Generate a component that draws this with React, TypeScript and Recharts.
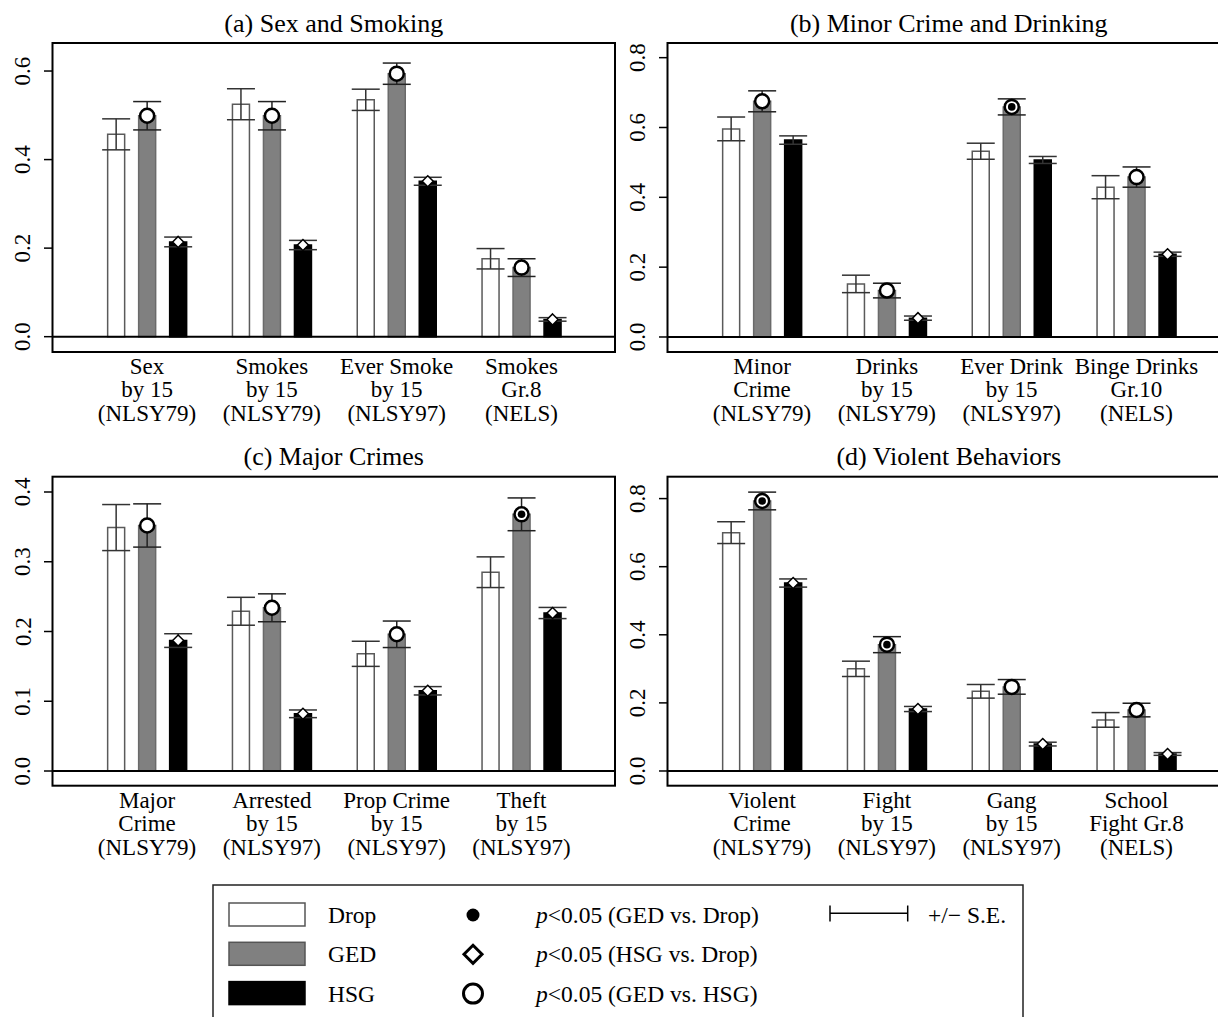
import React from 'react';
import { BarChart, Bar, XAxis, YAxis, ErrorBar, LabelList, ReferenceLine } from 'recharts';

const FONT = '"Liberation Serif", "Times New Roman", Times, serif';

// (a) Sex and Smoking
const catsA = ['Sex\nby 15\n(NLSY79)', 'Smokes\nby 15\n(NLSY79)', 'Ever Smoke\nby 15\n(NLSY97)', 'Smokes\nGr.8\n(NELS)'];
const dropA = [0.457, 0.525, 0.535, 0.176];
const dropSeA = [0.035, 0.035, 0.024, 0.023];
const gedA = [0.499, 0.499, 0.594, 0.156];
const gedSeA = [0.032, 0.032, 0.024, 0.02];
const hsgA = [0.214, 0.207, 0.351, 0.039];
const hsgSeA = [0.011, 0.0105, 0.009, 0.004];
// p<0.05 flags: GED vs Drop (dot), HSG vs Drop (diamond), GED vs HSG (circle)
const gedDropA = [0, 0, 0, 0];
const hsgDropA = [1, 1, 1, 1];
const gedHsgA = [1, 1, 1, 1];

// (b) Minor Crime and Drinking
const catsB = ['Minor\nCrime\n(NLSY79)', 'Drinks\nby 15\n(NLSY79)', 'Ever Drink\nby 15\n(NLSY97)', 'Binge Drinks\nGr.10\n(NELS)'];
const dropB = [0.596, 0.152, 0.532, 0.429];
const dropSeB = [0.034, 0.025, 0.023, 0.033];
const gedB = [0.675, 0.133, 0.659, 0.458];
const gedSeB = [0.03, 0.021, 0.023, 0.029];
const hsgB = [0.564, 0.054, 0.507, 0.237];
const hsgSeB = [0.012, 0.006, 0.01, 0.006];
const gedDropB = [0, 0, 1, 0];
const hsgDropB = [0, 1, 0, 1];
const gedHsgB = [1, 1, 1, 1];

// (c) Major Crimes
const catsC = ['Major\nCrime\n(NLSY79)', 'Arrested\nby 15\n(NLSY97)', 'Prop Crime\nby 15\n(NLSY97)', 'Theft\nby 15\n(NLSY97)'];
const dropC = [0.349, 0.229, 0.168, 0.285];
const dropSeC = [0.033, 0.02, 0.018, 0.022];
const gedC = [0.352, 0.234, 0.196, 0.368];
const gedSeC = [0.031, 0.02, 0.019, 0.0235];
const hsgC = [0.187, 0.082, 0.115, 0.2265];
const hsgSeC = [0.0098, 0.0055, 0.006, 0.008];
const gedDropC = [0, 0, 0, 1];
const hsgDropC = [1, 1, 1, 1];
const gedHsgC = [1, 1, 1, 1];

// (d) Violent Behaviors
const catsD = ['Violent\nCrime\n(NLSY79)', 'Fight\nby 15\n(NLSY97)', 'Gang\nby 15\n(NLSY97)', 'School\nFight Gr.8\n(NELS)'];
const dropD = [0.7, 0.3, 0.234, 0.15];
const dropSeD = [0.032, 0.0225, 0.02, 0.0215];
const gedD = [0.793, 0.371, 0.247, 0.179];
const gedSeD = [0.026, 0.0235, 0.0215, 0.02];
const hsgD = [0.552, 0.182, 0.079, 0.05];
const hsgSeD = [0.012, 0.0075, 0.0055, 0.004];
const gedDropD = [1, 1, 0, 0];
const hsgDropD = [1, 1, 1, 1];
const gedHsgD = [1, 1, 1, 1];

const legendGroups = ['Drop', 'GED', 'HSG'];
const legendTests = ['(GED vs. Drop)', '(HSG vs. Drop)', '(GED vs. HSG)'];

const COLORS = { drop: '#ffffff', ged: '#808080', hsg: '#000000' };

const makeRows = (
  cats: string[], drop: number[], dropSe: number[], ged: number[], gedSe: number[],
  hsg: number[], hsgSe: number[], gedDrop: number[], hsgDrop: number[], gedHsg: number[]
) =>
  cats.map((cat, i) => ({
    cat,
    drop: drop[i], dropSe: dropSe[i],
    ged: ged[i], gedSe: gedSe[i],
    hsg: hsg[i], hsgSe: hsgSe[i],
    // 0 = nothing, 1 = open circle, 2 = circle with dot
    gedMark: gedHsg[i] ? (gedDrop[i] ? 2 : 1) : 0,
    hsgMark: hsgDrop[i],
  }));

// layout of the plot boxes
const PLOT_W = 562.5;
const PLOT_H = 309;
const Y_W = 60;
const TOP_M = 43;
const RIGHT_M = 10;
const X_H = 82;
const PAD = 31.65;

const panels = [
  { id: 'a', title: '(a) Sex and Smoking', left: 52.5, top: 43, domain: [-0.0346, 0.6633], ticks: [0, 0.2, 0.4, 0.6],
    rows: makeRows(catsA, dropA, dropSeA, gedA, gedSeA, hsgA, hsgSeA, gedDropA, hsgDropA, gedHsgA) },
  { id: 'b', title: '(b) Minor Crime and Drinking', left: 667.5, top: 43, domain: [-0.043, 0.842], ticks: [0, 0.2, 0.4, 0.6, 0.8],
    rows: makeRows(catsB, dropB, dropSeB, gedB, gedSeB, hsgB, hsgSeB, gedDropB, hsgDropB, gedHsgB) },
  { id: 'c', title: '(c) Major Crimes', left: 52.5, top: 476.7, domain: [-0.0215, 0.4215], ticks: [0, 0.1, 0.2, 0.3, 0.4],
    rows: makeRows(catsC, dropC, dropSeC, gedC, gedSeC, hsgC, hsgSeC, gedDropC, hsgDropC, gedHsgC) },
  { id: 'd', title: '(d) Violent Behaviors', left: 667.5, top: 476.7, domain: [-0.0441, 0.8634], ticks: [0, 0.2, 0.4, 0.6, 0.8],
    rows: makeRows(catsD, dropD, dropSeD, gedD, gedSeD, hsgD, hsgSeD, gedDropD, hsgDropD, gedHsgD) },
];

const XTick = (props: any) => {
  const { x, y, payload } = props;
  const lines = String(payload.value).split('\n');
  return (
    <text x={x} y={y} textAnchor="middle" fontSize={23} fontFamily={FONT} fill="#000">
      {lines.map((l, i) => (
        <tspan key={i} x={x} y={y + 21.5 + i * 23.5}>{l}</tspan>
      ))}
    </text>
  );
};

const YTick = (props: any) => {
  const { x, y, payload } = props;
  const tx = x - 13.5;
  return (
    <text x={tx} y={y} transform={`rotate(-90 ${tx} ${y})`} textAnchor="middle" fontSize={23} fontFamily={FONT} fill="#000">
      {Number(payload.value).toFixed(1)}
    </text>
  );
};

const pos = (props: any) => {
  const vb = props.viewBox || {};
  const x = props.x ?? vb.x;
  const y = props.y ?? vb.y;
  const w = props.width ?? vb.width;
  return { cx: x + w / 2, cy: y };
};

const GedMarker = (props: any) => {
  if (!props.value) return null;
  const { cx, cy } = pos(props);
  return (
    <g>
      <circle cx={cx} cy={cy} r={7} fill="#fff" stroke="#000" strokeWidth={2.5} />
      {props.value === 2 && <circle cx={cx} cy={cy} r={3.8} fill="#000" />}
    </g>
  );
};

const HsgMarker = (props: any) => {
  if (!props.value) return null;
  const { cx, cy } = pos(props);
  const h = 5.5;
  return (
    <path d={`M${cx},${cy - h}L${cx + h},${cy}L${cx},${cy + h}L${cx - h},${cy}Z`} fill="#fff" stroke="#000" strokeWidth={1.5} />
  );
};

const Panel = ({ p }: { p: any }) => (
  <div style={{ position: 'absolute', left: p.left - Y_W, top: p.top - TOP_M }}>
    <BarChart
      width={Y_W + PLOT_W + RIGHT_M}
      height={TOP_M + PLOT_H + X_H}
      data={p.rows}
      margin={{ top: TOP_M, right: RIGHT_M, bottom: 0, left: 0 }}
      barGap={14}
    >
      <XAxis
        dataKey="cat"
        type="category"
        interval={0}
        height={X_H}
        axisLine={false}
        tickLine={false}
        tickSize={0}
        tickMargin={0}
        padding={{ left: PAD, right: PAD }}
        tick={<XTick />}
      />
      <YAxis
        type="number"
        width={Y_W}
        domain={p.domain}
        ticks={p.ticks}
        allowDataOverflow
        axisLine={false}
        tickLine={{ stroke: '#000', strokeWidth: 1.5 }}
        tickSize={9}
        tickMargin={0}
        tick={<YTick />}
      />
      <ReferenceLine y={0} stroke="#000" strokeWidth={2} />
      <Bar dataKey="drop" barSize={17} fill={COLORS.drop} stroke="#5a5a5a" strokeWidth={1.5} isAnimationActive={false}>
        <ErrorBar dataKey="dropSe" width={14} stroke="#333" strokeWidth={1.5} />
      </Bar>
      <Bar dataKey="ged" barSize={17} fill={COLORS.ged} stroke="#6a6a6a" strokeWidth={1.5} isAnimationActive={false}>
        <ErrorBar dataKey="gedSe" width={14} stroke="#222" strokeWidth={1.5} />
        <LabelList dataKey="gedMark" content={<GedMarker />} />
      </Bar>
      <Bar dataKey="hsg" barSize={17} fill={COLORS.hsg} stroke="#000" strokeWidth={1.5} isAnimationActive={false}>
        <ErrorBar dataKey="hsgSe" width={14} stroke="#333" strokeWidth={1.5} />
        <LabelList dataKey="hsgMark" content={<HsgMarker />} />
      </Bar>
    </BarChart>
  </div>
);

const Legend = () => {
  const base = (i: number) => 923 + i * 39.3;
  const fills = [COLORS.drop, COLORS.ged, COLORS.hsg];
  const strokes = ['#555', '#555', '#000'];
  return (
    <g fontFamily={FONT} fontSize={23.5} fill="#000">
      <rect x={213} y={885} width={810} height={160} fill="#fff" stroke="#222" strokeWidth={1.5} />
      {legendGroups.map((g, i) => (
        <g key={g}>
          <rect x={229} y={base(i) - 20} width={76} height={23} fill={fills[i]} stroke={strokes[i]} strokeWidth={1.5} />
          <text x={328} y={base(i)}>{g}</text>
        </g>
      ))}
      <circle cx={473} cy={base(0) - 8} r={6.5} fill="#000" />
      <path d={`M473,${base(1) - 17}L482,${base(1) - 8}L473,${base(1) + 1}L464,${base(1) - 8}Z`} fill="#fff" stroke="#000" strokeWidth={3} />
      <circle cx={473} cy={base(2) - 8} r={9.5} fill="#fff" stroke="#000" strokeWidth={3} />
      {legendTests.map((t, i) => (
        <text key={t} x={536} y={base(i)}>
          <tspan fontStyle="italic">p</tspan>
          {'<0.05 ' + t}
        </text>
      ))}
      <line x1={830} y1={913.3} x2={907.7} y2={913.3} stroke="#000" strokeWidth={1.5} />
      <line x1={830} y1={905.5} x2={830} y2={921.5} stroke="#000" strokeWidth={1.5} />
      <line x1={907.7} y1={905.5} x2={907.7} y2={921.5} stroke="#000" strokeWidth={1.5} />
      <text x={928} y={base(0)}>+/− S.E.</text>
    </g>
  );
};

export default function App() {
  return (
    <div
      style={{
        position: 'absolute', left: 0, top: 0, width: 1218, height: 1017,
        overflow: 'hidden', background: '#fff', fontFamily: FONT,
      }}
    >
      {panels.map((p) => (
        <Panel key={p.id} p={p} />
      ))}
      <svg width={1218} height={1017} style={{ position: 'absolute', left: 0, top: 0, pointerEvents: 'none' }}>
        {panels.map((p) => (
          <g key={p.id}>
            <rect x={p.left} y={p.top} width={PLOT_W} height={PLOT_H} fill="none" stroke="#000" strokeWidth={2} />
            <text x={p.left + PLOT_W / 2} y={p.top - 11.5} textAnchor="middle" fontSize={26} fontFamily={FONT} fill="#000">
              {p.title}
            </text>
          </g>
        ))}
        <Legend />
      </svg>
    </div>
  );
}
